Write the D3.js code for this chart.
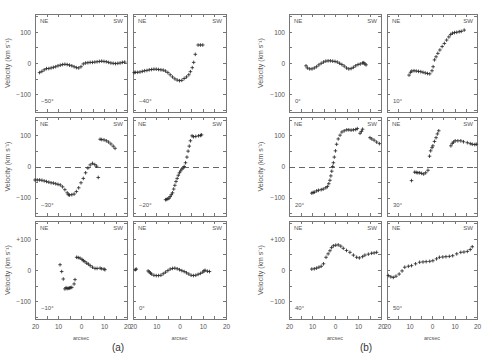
<!DOCTYPE html>
<meta charset="utf-8">
<style>
html, body {
  margin: 0;
  background: #fff;
}
svg text {
  font-family: "Liberation Sans", Arial, sans-serif;
}
.frame {
  fill: none;
  stroke: #777;
  stroke-width: 1;
  shape-rendering: crispEdges;
}
.axis {
  color: #777;
  font-size: 6.5px;
}
.axis text {
  fill: #555;
}
.axis line {
  shape-rendering: crispEdges;
}
.zero {
  stroke: #666;
  stroke-dasharray: 6, 4;
  shape-rendering: crispEdges;
}
.pt {
  stroke: #222;
  stroke-width: 0.8;
  fill: none;
}
.lbl {
  fill: #555;
  font-size: 6px;
}
.ylab {
  fill: #555;
  font-size: 7px;
}
.cap {
  fill: #333;
  font-size: 10px;
}
</style>
<body>
<svg class="chart" width="485" height="360"></svg>

<script src="https://d3js.org/d3.v7.min.js"></script>
<script>
"use strict";

// position angle labels
var anglesA = ["\u221250\u00b0", "\u221240\u00b0", "\u221230\u00b0", "\u221220\u00b0", "\u221210\u00b0", "0\u00b0"];
var anglesB = ["0\u00b0", "10\u00b0", "20\u00b0", "30\u00b0", "40\u00b0", "50\u00b0"];

// [offset arcsec, velocity km/s]
var paM50 = [[-18,-31],[-17,-27],[-16,-22],[-15,-18],[-14,-18],[-13,-16],[-12,-14],[-11,-12],[-10,-9],[-9,-7],
  [-8,-5],[-7,-4],[-6,-5],[-5,-7],[-4,-9],[-3,-12],[-2,-15],[-1,-16],[0,-12],[1,-3],[2,0],[3,1],[4,2],[5,2],
  [6,3],[7,4],[8,5],[9,6],[10,5],[11,4],[12,2],[13,0],[14,-1],[15,-2],[16,-1],[17,0],[18,2],[19,3]];
var paM40 = [[-19.5,-31],[-19,-30],[-18,-30],[-17,-29],[-16,-27],[-15,-25],[-14,-24],[-13,-22],[-12,-21],[-11,-20],
  [-10,-20],[-9,-21],[-8,-22],[-7,-23],[-6,-26],[-5,-31],[-4,-38],[-3,-45],[-2,-51],[-1,-55],[0,-57],[1,-56],
  [2,-50],[3,-45],[4,-38],[4.7,-28],[5.5,-15],[6.1,2],[6.8,28],[8,58],[9,58],[10,58]];
var paM30 = [[-20,-43],[-19,-43],[-18,-43],[-17,-44],[-16,-46],[-15,-48],[-14,-50],[-13,-52],[-12,-53],[-11,-55],
  [-10,-57],[-9,-59],[-8,-65],[-7,-74],[-6,-84],[-5.5,-90],[-5,-91],[-4,-90],[-3,-88],[-2,-80],[-1,-68],[0,-52],
  [1,-38],[2,-20],[3,-5],[4,5],[5,10],[6,6],[6.8,1],[7.5,-35],
  [8.3,87],[9,86],[10,85],[11,82],[12,78],[13,72],[14,65],[14.8,58]];
var paM20 = [[-6,-106],[-5.5,-105],[-5,-103],[-4.5,-101],[-4,-96],[-3.5,-90],[-3,-84],[-2.5,-72],[-2,-60],
  [-1.5,-48],[-1,-38],[-0.5,-28],[0,-20],[0.5,-14],[1,-8],[1.5,-5],[2,0],[2.6,12],[3.2,30],[3.7,49],[4.2,65],
  [4.7,82],[5.4,98],[6,95],[7,96],[8.2,98],[9,99],[9.5,101]];
var paM10 = [[-9.1,17],[-8.4,-5],[-7.7,-29],[-7,-61],[-6.5,-57],[-6,-60],[-5.5,-59],[-5,-58],[-4.5,-57],[-4,-56],
  [-3,-45],[-2.6,-31],
  [-1.9,41],[-1.2,40],[-0.4,38],[0.5,34],[1,30],[1.7,27],[2.5,22],[3.2,19],[4,14],[5,9],[6.1,5],[7,5],[8.3,6],
  [9,4],[10,3],[10.4,1]];
var paA0 = [[-19,1],[-18.6,3],
  [-13.5,-3],[-13,-6],[-12.5,-10],[-12,-13],[-11,-17],[-10,-18],[-9,-18],[-8,-17],[-7,-12],[-6,-7],[-5,-2],
  [-4,3],[-3,5],[-2,6],[-1,4],[0,1],[1,-2],[2,-5],[3,-9],[4,-13],[5,-17],[6,-18],[7,-17],[8,-14],[9,-11],
  [10,-7],[10.5,-3],[11,-1],[12,-4],[12.9,-5]];

var paB0 = [[-12.6,-9],[-12,-16],[-11,-19],[-10,-19],[-9,-16],[-8,-12],[-7,-6],[-6,-1],[-5,3],[-4,6],[-3,7],
  [-2,7],[-1,6],[0,5],[1,3],[2,-1],[3,-5],[4,-10],[5,-16],[6,-19],[7,-18],[8,-14],[9,-9],[10,-5],[11,-3],
  [12,0],[12.5,1],[13,-3],[13.5,-6]];
var paB10 = [[-10.2,-39],[-9.5,-30],[-9,-26],[-8,-25],[-7,-26],[-6,-27],[-5,-28],[-4,-30],[-3,-32],[-2,-34],
  [-1,-35],[0,-25],[0.5,-12],[1.1,10],[1.8,20],[2.6,31],[3.5,42],[4.5,53],[5.5,63],[6.5,74],[7.5,84],[8.3,92],
  [9.1,96],[10,98],[11,99],[12.1,101],[13,102],[14.3,106]];
var paB20 = [[-10.1,-85],[-9.5,-83],[-9,-82],[-8,-78],[-7.2,-76],[-6,-74],[-5.1,-72],[-4,-68],[-3.3,-64],
  [-2.7,-55],[-2.2,-44],[-1.8,-30],[-1.4,-15],[-1,0],[-0.7,12],[-0.3,30],[0.2,50],[0.7,71],[1.4,88],[2.2,100],
  [3,110],[4,114],[5.1,117],[6,117],[7,116],[8,117],[9,118],[9.7,121],[10.9,106],[11.5,112],[12,119],
  [15.2,92],[16,88],[17,84],[18.1,78],[19.3,73]];
var paB30 = [[-9.1,-45],[-7.7,-18],[-7,-19],[-6.3,-20],[-5.5,-20],[-4.6,-22],[-3.7,-24],[-2.8,-20],[-1.8,-12],
  [-1.1,33],[-0.6,50],[0,60],[0.4,66],[1.1,80],[1.8,92],[2.4,104],[3,114],
  [8.4,66],[9,74],[9.6,78],[10.3,82],[11.5,82],[12.8,82],[14,79],[15.7,76],[17,73],[17.9,71],[19,70],[19.7,71]];
var paB40 = [[-10.1,3],[-9,4],[-8,6],[-7,9],[-6,12],[-5,20],[-3.9,41],[-3,52],[-2.2,62],[-1.5,72],[-0.7,78],
  [0.3,80],[1.4,81],[2.5,77],[3.6,70],[5,63],[6.5,57],[8,48],[9.4,41],[10.6,39],[12,43],[13,48],[14.5,51],
  [15.9,54],[17,55],[18.1,57]];
var paB50 = [[-19.4,-18],[-18.3,-22],[-17.2,-24],[-16,-20],[-14.6,-13],[-13.3,-3],[-12.1,9],[-10.5,12],[-9.1,14],
  [-7.3,20],[-5.5,25],[-4,26],[-2.6,27],[-1,28],[0.4,30],[2,36],[3.3,41],[4.8,42],[6.2,43],[7.7,44],[9.2,46],
  [11,52],[12.8,57],[14.2,58],[15.7,60],[17,66],[17.9,75]];

var xTicks = d3.range(-20, 21, 5);
var yTicks = d3.range(-150, 151, 50);

// layout
var rows = [[14, 112], [117, 216], [221, 319]];
var groups = [
  { cols: [[35, 127], [133, 226]], data: [paM50, paM40, paM30, paM20, paM10, paA0], angles: anglesA, yLabX: 9, capX: 118, cap: "(a)" },
  { cols: [[289, 381], [387, 477]], data: [paB0, paB10, paB20, paB30, paB40, paB50], angles: anglesB, yLabX: 262, capX: 366, cap: "(b)" }
];

var svg = d3.select(".chart");

groups.forEach(function(grp) {
  rows.forEach(function(r, ri) {
    grp.cols.forEach(function(c, ci) {
      var idx = ri * 2 + ci;
      drawPanel(grp.data[idx], c, r, ri, ci, grp.angles[idx]);
    });
    svg.append("text")
      .attr("class", "ylab")
      .attr("transform", "translate(" + (grp.yLabX + 1) + "," + ((r[0] + r[1]) / 2) + ") rotate(-90)")
      .attr("text-anchor", "middle")
      .text("Velocity (km s\u207b\u00b9)");
  });
  grp.cols.forEach(function(c) {
    svg.append("text")
      .attr("class", "lbl")
      .attr("x", (c[0] + c[1]) / 2)
      .attr("y", 340)
      .attr("text-anchor", "middle")
      .style("font-size", "5.5px")
      .text("arcsec");
  });
  svg.append("text")
    .attr("class", "cap")
    .attr("x", grp.capX)
    .attr("y", 351)
    .attr("text-anchor", "middle")
    .text(grp.cap);
});

function drawPanel(data, c, r, ri, ci, angle) {
  var x = d3.scaleLinear().domain([-20, 20]).range(c);
  var y = d3.scaleLinear().domain([-158, 158]).range([r[1], r[0]]);
  var g = svg.append("g");

  var bottomFmt = ri === 2 ? function(d) { return d % 10 === 0 ? Math.abs(d) : ""; } : function() { return ""; };
  var leftFmt = function(d) {
    if (ci !== 0) return "";
    if (d === 100) return ri === 2 ? "+100" : "100";
    if (d === 0) return "0";
    if (d === -100) return "\u2212100";
    return "";
  };

  g.append("g").attr("class", "axis")
    .attr("transform", "translate(0," + r[1] + ")")
    .call(d3.axisBottom(x).tickValues(xTicks).tickSizeInner(-3).tickSizeOuter(0).tickPadding(5).tickFormat(bottomFmt));
  g.append("g").attr("class", "axis")
    .attr("transform", "translate(0," + r[0] + ")")
    .call(d3.axisTop(x).tickValues(xTicks).tickSizeInner(-3).tickSizeOuter(0).tickFormat(""));
  g.append("g").attr("class", "axis")
    .attr("transform", "translate(" + c[0] + ",0)")
    .call(d3.axisLeft(y).tickValues(yTicks).tickSizeInner(-3).tickSizeOuter(0).tickPadding(4).tickFormat(leftFmt));
  g.append("g").attr("class", "axis")
    .attr("transform", "translate(" + c[1] + ",0)")
    .call(d3.axisRight(y).tickValues(yTicks).tickSizeInner(-3).tickSizeOuter(0).tickFormat(""));
  g.selectAll(".axis .domain").remove();

  g.append("rect")
    .attr("class", "frame")
    .attr("x", c[0] + 0.5)
    .attr("y", r[0] + 0.5)
    .attr("width", c[1] - c[0])
    .attr("height", r[1] - r[0]);

  if (ri === 1) {
    g.append("line")
      .attr("class", "zero")
      .attr("x1", c[0])
      .attr("x2", c[1])
      .attr("y1", Math.round(y(0)) + 0.5)
      .attr("y2", Math.round(y(0)) + 0.5);
  }

  g.selectAll(".pt")
    .data(data)
    .join("path")
    .attr("class", "pt")
    .attr("d", function(d) {
      var px = x(d[0]), py = y(d[1]);
      return "M" + (px - 1.8) + "," + py + "H" + (px + 1.8) + "M" + px + "," + (py - 1.8) + "V" + (py + 1.8);
    });

  g.append("text").attr("class", "lbl")
    .attr("x", c[0] + 5).attr("y", r[0] + 9)
    .text("NE");
  g.append("text").attr("class", "lbl")
    .attr("x", c[1] - 4).attr("y", r[0] + 9)
    .attr("text-anchor", "end")
    .text("SW");
  g.append("text").attr("class", "lbl")
    .attr("x", c[0] + 6).attr("y", r[1] - 9)
    .text(angle);
}
</script>
</body>
